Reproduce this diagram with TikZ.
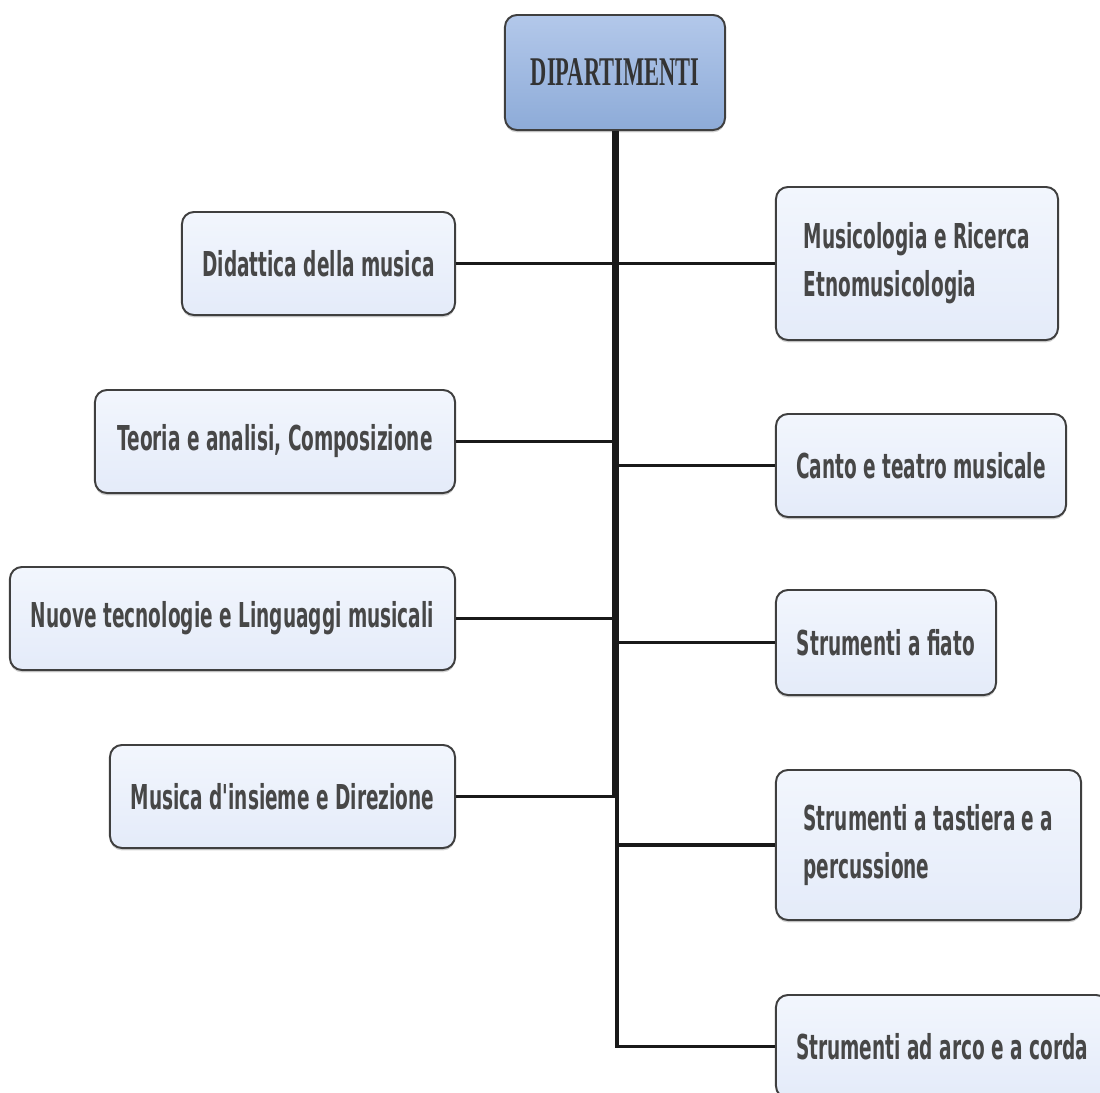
\documentclass[tikz,border=0pt]{standalone}
\usepackage{fontspec}
\newfontfamily\deptfont[FakeStretch=0.54]{DejaVu Sans}
\newfontfamily\headfont[FakeStretch=0.55]{Liberation Serif}
\usetikzlibrary{shadows}
\definecolor{boxtop}{HTML}{F2F6FD}
\definecolor{boxbot}{HTML}{E4EBF9}
\definecolor{heada}{HTML}{B3C8EA}
\definecolor{headb}{HTML}{8DABD8}
\definecolor{boxline}{HTML}{3F3F3F}
\definecolor{boxtext}{HTML}{474747}
\tikzset{
  dept/.style={draw=boxline, line width=1.4pt, rounded corners=0.3cm,
    top color=boxtop, bottom color=boxbot, text=boxtext, align=left,
    font=\deptfont\bfseries\fontsize{24.4}{34}\selectfont,
    minimum height=2.575cm, inner sep=0pt,
    drop shadow={shadow xshift=0cm, shadow yshift=-0.06cm, opacity=0.35}},
  head/.style={dept, top color=heada, bottom color=headb, text=black!80,
    font=\headfont\bfseries\fontsize{29}{34}\selectfont},
  spine/.style={line width=2.6pt, black!90}
}
\begin{document}
\begin{tikzpicture}[x=0.025cm, y=-0.025cm]
  \useasboundingbox (0,0) rectangle (1100,1093);
  \clip (0,0) rectangle (1100,1093);
% head box
  \node[head, minimum width=5.5cm, minimum height=2.875cm] (top) at (615,72.5) {DIPARTIMENTI};
% left departments
  \node[dept, minimum width=6.825cm] (did) at (318.5,263.5) {Didattica della musica};
  \node[dept, minimum width=9cm] (teo) at (275,441.5) {Teoria e analisi, Composizione};
  \node[dept, minimum width=11.125cm] (nuo) at (232.5,618.5) {Nuove tecnologie e Linguaggi musicali};
  \node[dept, minimum width=8.625cm] (ins) at (282.5,796.5) {Musica d'insieme e Direzione};
% right departments
  \node[dept, minimum width=7.05cm, minimum height=3.825cm] (muc) at (917,263.5) {Musicologia e Ricerca\\Etnomusicologia};
  \node[dept, minimum width=7.25cm] (can) at (921,465.5) {Canto e teatro musicale};
  \node[dept, minimum width=5.5cm, minimum height=2.625cm] (fia) at (886,642.5) {Strumenti a fiato};
  \node[dept, minimum width=7.625cm, minimum height=3.75cm] (tas) at (928.5,845) {Strumenti a tastiera e a\\percussione};
  \node[dept, minimum width=8.3cm] (arc) at (942,1046.5) {Strumenti ad arco e a corda};
%-----------------------------------------------------------%
% spines
  \coordinate (lt) at ([xshift=-0.04cm]top.south);
  \coordinate (rt) at ([xshift=0.05cm]top.south);
  \draw[spine] (lt) |- (ins.east);
  \draw[spine] (rt) |- (arc.west);
% branches
  \foreach \n in {did,teo,nuo}
    {\draw[spine] (\n.east) -- (\n.east -| lt);}
  \foreach \n in {muc,can,fia,tas}
    {\draw[spine] (rt |- \n.west) -- (\n.west);}
\end{tikzpicture}
\end{document}
